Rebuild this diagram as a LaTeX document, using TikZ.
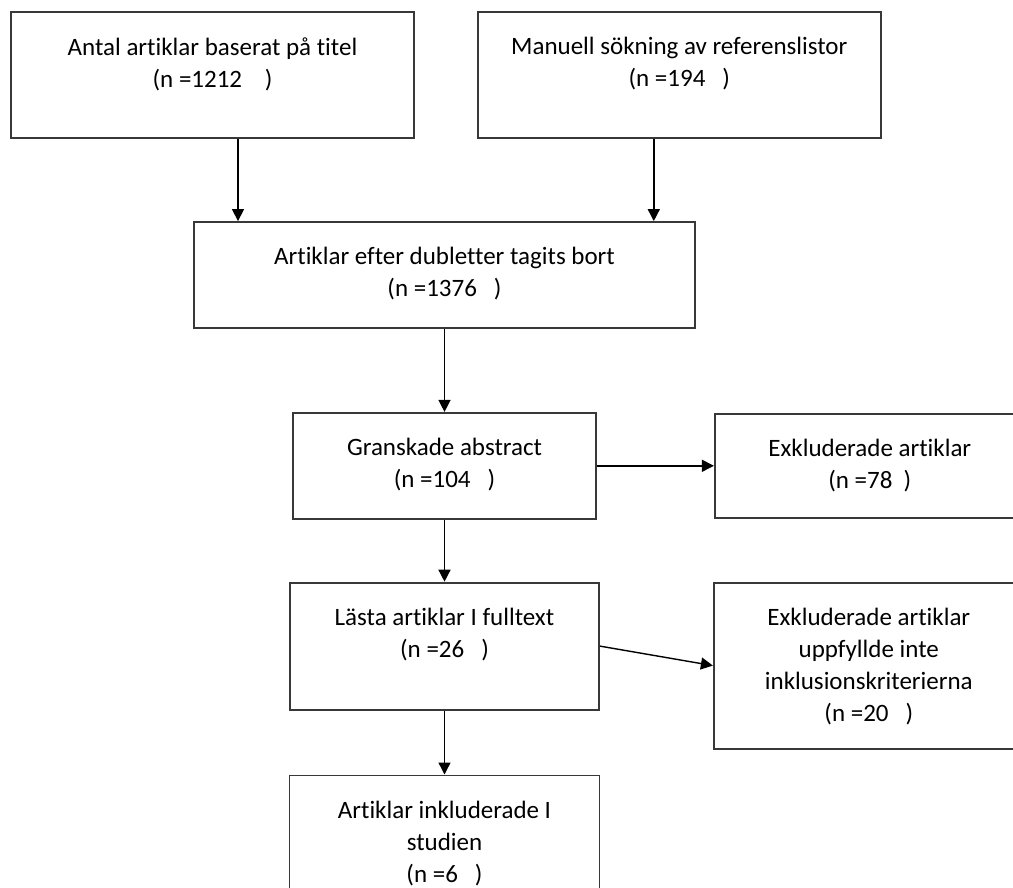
\documentclass[tikz,border=0pt]{standalone}
\usepackage{fontspec}
\setmainfont{Carlito}[Ligatures=CommonOff]
\usetikzlibrary{positioning,arrows.meta}

\begin{document}
\begin{tikzpicture}[
            x=1pt, y=-1pt,
            box/.style={ draw=black!78, line width=1.8pt, inner sep=0pt },
            txt/.style={ align=center, inner sep=0pt, font=\fontsize{25}{32}\selectfont },
            arr/.style={ -{Triangle[length=12pt,width=12pt]}, line width=1.4pt }
        ]

        \fill[white] (0,0) rectangle (1013,888);
        \useasboundingbox (0,0) rectangle (1013,888);
        \clip (0,0) rectangle (1013,888);

        % sources
        \node[box, minimum width=403pt, minimum height=126pt] (titel) at (212.5,75) {};
        \node[box, minimum width=403pt, minimum height=126pt, right=62pt of titel] (manuell) {};

        % main column
        \node[box, minimum width=501pt, minimum height=106pt] (dubl) at (444.5,275) {};
        \node[box, minimum width=303pt, minimum height=106pt, below=83pt of dubl] (abstr) {};
        \node[box, minimum width=309pt, minimum height=127pt, below=62pt of abstr] (full) {};
        \node[box, minimum width=310pt, minimum height=140pt, below=64pt of full] (inkl) {};

        % excluded
        \node[box, minimum width=310pt, minimum height=104pt, right=117pt of abstr] (exkl1) {};
        \node[box, minimum width=310pt, minimum height=166pt, right=113pt of full.north east, anchor=north west] (exkl2) {};

        % texts
        \node[txt, below=26pt of titel.north] (t-titel) {Antal artiklar baserat på titel\\(n =1212~~~~)};
        \node[txt, below=26pt of manuell.north] (t-manuell) {Manuell sökning av referenslistor\\(n =194~~~)};
        \node[txt, below=26pt of dubl.north] (t-dubl) {Artiklar efter dubletter tagits bort\\(n =1376~~~)};
        \node[txt, below=26pt of abstr.north] (t-abstr) {Granskade abstract\\(n =104~~~)};
        \node[txt, below=26pt of full.north] (t-full) {Lästa artiklar I fulltext\\(n =26~~~)};
        \node[txt, below=26pt of inkl.north] (t-inkl) {Artiklar inkluderade I\\studien\\(n =6~~~)};
        \node[txt, below=26pt of exkl1.north] (t-exkl1) {Exkluderade artiklar\\(n =78~~)};
        \node[txt, below=26pt of exkl2.north] (t-exkl2) {Exkluderade artiklar\\uppfyllde inte\\inklusionskriterierna\\(n =20~~~)};

        % arrows
        \draw[arr] ([xshift=25.5pt]titel.south) -- ([xshift=25.5pt]titel.south |- dubl.north);
        \draw[arr] ([xshift=-25.5pt]manuell.south) -- ([xshift=-25.5pt]manuell.south |- dubl.north);
        \draw[arr] (dubl) -- (abstr);
        \draw[arr] (abstr) -- (exkl1);
        \draw[arr] (abstr) -- (full);
        \draw[arr] (full.east) -- (exkl2.west);
        \draw[arr] (full) -- (inkl);
    \end{tikzpicture}
\end{document}
